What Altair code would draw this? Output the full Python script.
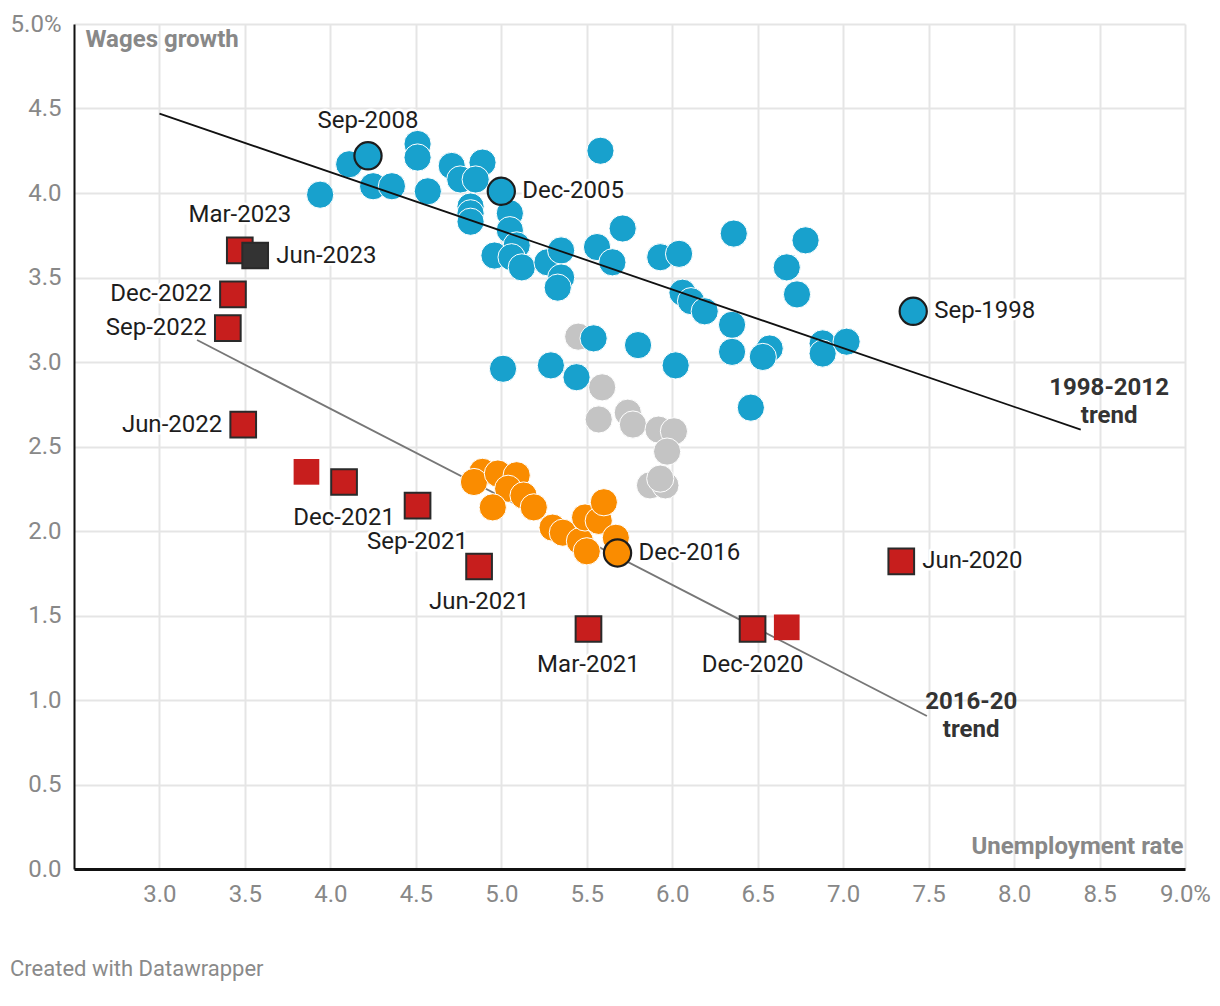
import altair as alt
import pandas as pd

# ---------------- data ----------------
# 1998-2012 (blue)
blue_x = [3.94, 4.11, 4.25, 4.36, 4.51, 4.51, 4.57, 4.71, 4.76, 4.89, 4.85, 4.82, 4.82, 4.82, 5.05,
          5.05, 5.09, 4.96, 5.06, 5.12, 5.27, 5.35, 5.35, 5.33, 5.56, 5.71, 5.65, 5.58, 5.93, 6.04,
          6.36, 6.78, 6.67, 6.73, 6.06, 6.11, 6.19, 6.35, 6.35, 6.57, 6.53, 6.88, 6.88, 7.02, 5.54,
          5.80, 6.02, 5.01, 5.29, 5.44, 6.46]
blue_y = [3.99, 4.17, 4.04, 4.04, 4.29, 4.21, 4.01, 4.16, 4.08, 4.18, 4.08, 3.92, 3.88, 3.83, 3.88,
          3.78, 3.69, 3.63, 3.62, 3.56, 3.59, 3.66, 3.50, 3.44, 3.68, 3.79, 3.59, 4.25, 3.62, 3.64,
          3.76, 3.72, 3.56, 3.40, 3.41, 3.36, 3.30, 3.22, 3.06, 3.08, 3.03, 3.11, 3.05, 3.12, 3.14,
          3.10, 2.98, 2.96, 2.98, 2.91, 2.73]

# 2013-2015 (grey)
gray_x = [5.45, 5.59, 5.57, 5.74, 5.77, 5.92, 6.01, 5.97, 5.87, 5.96, 5.93]
gray_y = [3.15, 2.85, 2.66, 2.70, 2.63, 2.60, 2.59, 2.47, 2.27, 2.27, 2.31]

# 2016-2020 (orange)
orange_x = [4.89, 4.84, 4.98, 5.09, 5.04, 5.13, 4.95, 5.19, 5.30, 5.36, 5.46, 5.50, 5.49, 5.57,
            5.60, 5.67]
orange_y = [2.35, 2.29, 2.34, 2.33, 2.25, 2.21, 2.14, 2.14, 2.02, 1.99, 1.94, 1.88, 2.08, 2.06,
            2.17, 1.96]

# Highlighted circles
hl_x = [4.22, 5.00, 7.41, 5.68]
hl_y = [4.22, 4.01, 3.30, 1.87]
hl_series = ["1998-2012", "1998-2012", "1998-2012", "2016-20"]
hl_labels = ["Sep-2008", "Dec-2005", "Sep-1998", "Dec-2016"]
hl_pos = ["above", "right", "right", "right"]

# 2020-2023 quarters (red squares)
red_x = [7.34, 6.67, 6.47, 5.51, 4.87, 4.51, 4.08, 3.86, 3.49, 3.40, 3.43, 3.47, 3.56]
red_y = [1.82, 1.43, 1.42, 1.42, 1.79, 2.15, 2.29, 2.35, 2.63, 3.20, 3.40, 3.66, 3.63]
red_labels = ["Jun-2020", "", "Dec-2020", "Mar-2021", "Jun-2021", "Sep-2021", "Dec-2021", "",
              "Jun-2022", "Sep-2022", "Dec-2022", "Mar-2023", "Jun-2023"]
red_pos = ["right", "", "below", "below", "below", "below", "below", "",
           "left", "left", "left", "above", "right"]

# Trend lines
trend_names = ["1998-2012", "1998-2012", "2016-20", "2016-20"]
trend_x = [3.00, 8.39, 3.22, 7.49]
trend_y = [4.47, 2.60, 3.13, 0.905]

# trend annotations (position of first line)
trend_label_x = [8.556, 7.749]
trend_label_y = [2.846, 0.988]
trend_label_text = ["1998-2012\ntrend", "2016-20\ntrend"]

x_ticks = [3.0, 3.5, 4.0, 4.5, 5.0, 5.5, 6.0, 6.5, 7.0, 7.5, 8.0, 8.5, 9.0]
y_ticks = [0.0, 0.5, 1.0, 1.5, 2.0, 2.5, 3.0, 3.5, 4.0, 4.5, 5.0]

# ---------------- tables ----------------
blue_df = pd.DataFrame({"x": blue_x, "y": blue_y})
gray_df = pd.DataFrame({"x": gray_x, "y": gray_y})
orange_df = pd.DataFrame({"x": orange_x, "y": orange_y})
hl_df = pd.DataFrame({"x": hl_x, "y": hl_y, "series": hl_series, "label": hl_labels, "pos": hl_pos})
red_df = pd.DataFrame({"x": red_x, "y": red_y, "label": red_labels, "pos": red_pos})
red_df["kind"] = ["latest" if i == len(red_df) - 1 else ("marked" if l else "plain")
                  for i, l in enumerate(red_df["label"])]
trend_df = pd.DataFrame({"x": trend_x, "y": trend_y, "trend": trend_names})
tlabel_df = pd.DataFrame({"x": trend_label_x, "y": trend_label_y, "text": trend_label_text})
label_df = pd.concat([hl_df[["x", "y", "label", "pos"]],
                      red_df[red_df["label"] != ""][["x", "y", "label", "pos"]]],
                     ignore_index=True)

FONT = "Roboto"
GREY_TXT = "#888888"
FS = 24

x_axis = alt.Axis(
    values=x_ticks,
    labelExpr="datum.value == 9 ? '9.0%' : format(datum.value, '.1f')",
    labelFlush=False, labelOverlap=False,
    grid=True, gridColor="#e5e5e5", gridWidth=2,
    domain=True, domainColor="#111111", domainWidth=3,
    ticks=False, labelFont=FONT, labelFontSize=FS, labelColor=GREY_TXT, labelPadding=13,
    title="Unemployment rate", titleFont=FONT, titleFontSize=FS, titleFontWeight="bold",
    titleColor=GREY_TXT, titleAlign="right", titleBaseline="middle", titleAngle=0,
    titleX=1109, titleY=-23,
)
y_axis = alt.Axis(
    values=y_ticks,
    labelExpr="datum.value == 5 ? '5.0%' : format(datum.value, '.1f')",
    labelFlush=False, labelOverlap=False,
    grid=True, gridColor="#e5e5e5", gridWidth=2,
    domain=True, domainColor="#111111", domainWidth=2,
    ticks=False, labelFont=FONT, labelFontSize=FS, labelColor=GREY_TXT, labelPadding=13,
    title="Wages growth", titleFont=FONT, titleFontSize=FS, titleFontWeight="bold",
    titleColor=GREY_TXT, titleAlign="left", titleBaseline="middle", titleAngle=0,
    titleX=11, titleY=15,
)

X = alt.X("x:Q", scale=alt.Scale(domain=[2.5, 9.0], nice=False, zero=False), axis=x_axis)
Y = alt.Y("y:Q", scale=alt.Scale(domain=[0, 5.0], nice=False, zero=True), axis=y_axis)

CIRCLE = 740
SQUARE = 660

BLUE = "#18a1cd"
ORANGE = "#fa8c00"
GREY = "#c4c4c4"
RED = "#c71e1d"
DARK = "#333333"
OUTLINE = "#1d1d1d"

trend2016 = alt.Chart(trend_df).transform_filter("datum.trend == '2016-20'").mark_line(
    color="#777777", strokeWidth=1.8).encode(x=X, y=Y)
trend1998 = alt.Chart(trend_df).transform_filter("datum.trend == '1998-2012'").mark_line(
    color="#111111", strokeWidth=1.8).encode(x=X, y=Y)


def dots(df, color):
    return alt.Chart(df).mark_point(
        shape="circle", filled=True, size=CIRCLE, color=color, opacity=1,
        stroke="white", strokeWidth=1).encode(x=X, y=Y)


gray_pts = dots(gray_df, GREY)
blue_pts = dots(blue_df, BLUE)
orange_pts = dots(orange_df, ORANGE)

hl_blue = alt.Chart(hl_df).transform_filter("datum.series == '1998-2012'").mark_point(
    shape="circle", filled=True, size=CIRCLE, color=BLUE, opacity=1,
    stroke=OUTLINE, strokeWidth=2.2).encode(x=X, y=Y)
hl_orange = alt.Chart(hl_df).transform_filter("datum.series == '2016-20'").mark_point(
    shape="circle", filled=True, size=CIRCLE, color=ORANGE, opacity=1,
    stroke=OUTLINE, strokeWidth=2.2).encode(x=X, y=Y)

red_plain = alt.Chart(red_df).transform_filter("datum.kind == 'plain'").mark_point(
    shape="square", filled=True, size=SQUARE, color=RED, opacity=1, strokeWidth=0).encode(x=X, y=Y)
red_marked = alt.Chart(red_df).transform_filter("datum.kind == 'marked'").mark_point(
    shape="square", filled=True, size=SQUARE, color=RED, opacity=1,
    stroke="#2a2a2a", strokeWidth=2).encode(x=X, y=Y)
red_latest = alt.Chart(red_df).transform_filter("datum.kind == 'latest'").mark_point(
    shape="square", filled=True, size=SQUARE, color=DARK, opacity=1,
    stroke="#2a2a2a", strokeWidth=2).encode(x=X, y=Y)


def label_layer(pos, align, dx, dy):
    base = alt.Chart(label_df).transform_filter(f"datum.pos == '{pos}'")
    halo = base.mark_text(align=align, baseline="middle", dx=dx, dy=dy, font=FONT, fontSize=FS,
                          stroke="white", strokeWidth=5, strokeJoin="round", color="white").encode(
        x=X, y=Y, text="label:N")
    txt = base.mark_text(align=align, baseline="middle", dx=dx, dy=dy, font=FONT, fontSize=FS,
                         color="#1d1d1d").encode(x=X, y=Y, text="label:N")
    return [halo, txt]


labels = (label_layer("right", "left", 21, 0) + label_layer("left", "right", -21, 0)
          + label_layer("above", "center", 0, -35) + label_layer("below", "center", 0, 36))

trend_labels = alt.Chart(tlabel_df).mark_text(
    align="center", baseline="middle", font=FONT, fontSize=FS, fontWeight="bold",
    color="#333333", lineBreak="\n", lineHeight=28).encode(x=X, y=Y, text="text:N")

footer = alt.Chart(tlabel_df.head(1)).mark_text(
    align="left", baseline="middle", font=FONT, fontSize=22, color="#8a8a8a",
    text="Created with Datawrapper").encode(x=alt.value(-64), y=alt.value(945))

chart = alt.layer(
    trend2016, gray_pts, blue_pts, trend1998, orange_pts, hl_blue, hl_orange,
    red_plain, red_marked, red_latest,
    *labels, trend_labels, footer
).properties(
    width=1111, height=845,
    autosize=alt.AutoSizeParams(type="none"),
    padding={"left": 74, "top": 24, "right": 35, "bottom": 137},
    background="white",
).configure_view(strokeWidth=0)

chart.save("out.html", embed_options={"renderer": "svg", "actions": False})
